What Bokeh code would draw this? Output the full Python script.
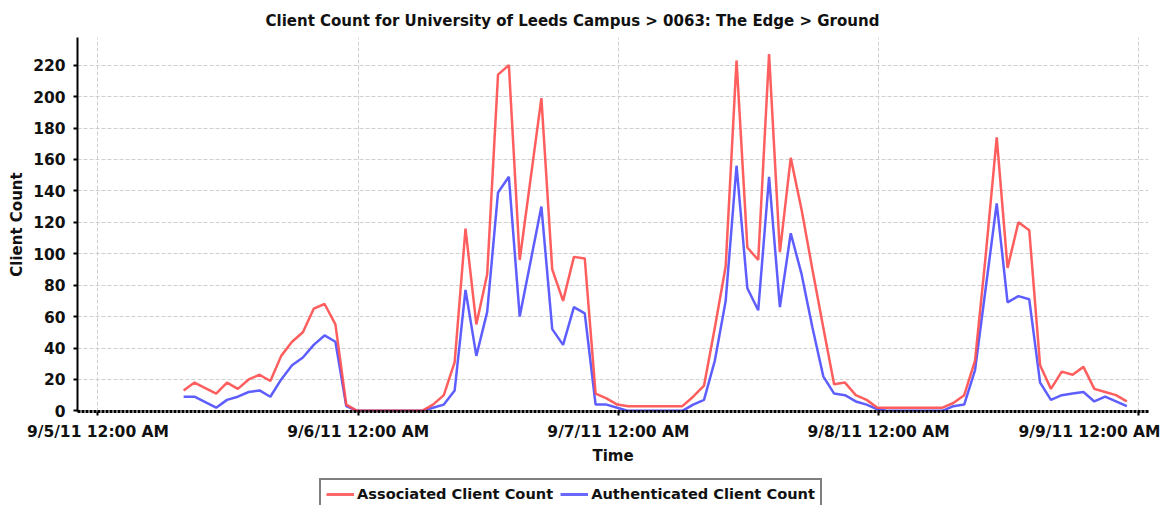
from datetime import datetime, timedelta
from bokeh.plotting import figure
from bokeh.layouts import column
from bokeh.models import Range1d, FixedTicker, Legend, LegendItem
from bokeh.embed import file_html
from bokeh.resources import INLINE

# ---- data ----
title_text = "Client Count for University of Leeds Campus > 0063: The Edge > Ground"
start_day = datetime(2011, 9, 5)
# sample index = hours after 9/5/11 12:00 AM (samples taken ~ :54 past each hour)
hour_index = [7, 8] + list(range(10, 39)) + list(range(40, 95))
associated = [13, 18, 11, 18, 14, 20, 23, 19, 35, 44, 50, 65, 68, 55, 4,
              0, 0, 0, 0, 0, 0, 0, 4, 10, 31, 116, 55, 87, 214, 220, 96,
              199, 90, 70, 98, 97, 11, 8, 4, 3, 3, 3, 3, 3, 3, 9, 16, 53, 92,
              223, 104, 96, 227, 101, 161, 128, 90, 53, 17, 18, 10, 7, 2,
              2, 2, 2, 2, 2, 2, 5, 10, 32, 100, 174, 91, 120, 115, 29, 14,
              25, 23, 28, 14, 12, 10, 6]
authenticated = [9, 9, 2, 7, 9, 12, 13, 9, 20, 29, 34, 42, 48, 44, 3,
                 0, 0, 0, 0, 0, 0, 0, 2, 4, 13, 77, 35, 63, 139, 149, 60,
                 130, 52, 42, 66, 62, 4, 4, 2, 0, 0, 0, 0, 0, 0, 4, 7, 32, 70,
                 156, 78, 64, 149, 66, 113, 87, 53, 22, 11, 10, 6, 4, 1,
                 0, 0, 0, 0, 0, 0, 3, 4, 26, 79, 132, 69, 73, 71, 18, 7,
                 10, 11, 12, 6, 9, 6, 3]
series_names = ["Associated Client Count", "Authenticated Client Count"]
tick_days = [0, 1, 2, 3, 4]
tick_labels = ["9/5/11 12:00 AM", "9/6/11 12:00 AM", "9/7/11 12:00 AM",
               "9/8/11 12:00 AM", "9/9/11 12:00 AM"]
y_ticks = list(range(0, 221, 20))

sample_offset_h = 0.9
times = [start_day + timedelta(hours=h + sample_offset_h) for h in hour_index]

def ms(dt):
    return (dt - datetime(1970, 1, 1)).total_seconds() * 1000.0

tick_ms = [ms(start_day + timedelta(days=d)) for d in tick_days]

FONT = "DejaVu Sans"
RED = "#ff4d4d"
BLUE = "#4d4dff"
TXT = "#111111"

p = figure(width=1160, height=477, x_axis_type="datetime",
           output_backend="svg", toolbar_location=None,
           min_border_left=77, min_border_right=12,
           min_border_top=37, min_border_bottom=66)
p.outline_line_color = None
p.background_fill_color = "white"

p.title.text = title_text
p.title.align = "left"
p.title.offset = 188
p.title.standoff = 16
p.title.text_font = FONT
p.title.text_font_size = "15px"
p.title.text_font_style = "bold"
p.title.text_color = TXT

p.x_range = Range1d(ms(start_day - timedelta(hours=1.89)),
                    ms(start_day + timedelta(hours=96.9)))
p.y_range = Range1d(-0.4, 237.6)

p.line(times, authenticated, line_color=BLUE, line_width=2.5, line_alpha=0.9)
p.line(times, associated, line_color=RED, line_width=2.5, line_alpha=0.9)

# axes
p.xaxis.ticker = FixedTicker(ticks=tick_ms)
p.xaxis.major_label_overrides = {t: lab for t, lab in zip(tick_ms, tick_labels)}
p.yaxis.ticker = FixedTicker(ticks=y_ticks)
p.xaxis.minor_tick_line_color = None
p.yaxis.minor_tick_line_color = None
for ax in (p.xaxis, p.yaxis):
    ax.axis_line_color = "black"
    ax.major_tick_line_color = "black"
    ax.major_tick_line_width = 2
    ax.major_tick_out = 4
    ax.major_tick_in = 0
    ax.major_label_text_font = FONT
    ax.major_label_text_font_size = "15.5px"
    ax.major_label_text_font_style = "bold"
    ax.major_label_text_color = TXT
    ax.axis_label_text_font = FONT
    ax.axis_label_text_font_size = "15px"
    ax.axis_label_text_font_style = "bold"
    ax.axis_label_text_color = TXT
p.yaxis.axis_line_width = 2
p.xaxis.axis_line_width = 3
p.xaxis.axis_line_dash = "3 1"
p.xaxis.major_label_standoff = 7
p.yaxis.major_label_standoff = 8
p.xaxis.axis_label = "Time"
p.yaxis.axis_label = "Client Count"
p.xaxis.axis_label_standoff = 3
p.yaxis.axis_label_standoff = 4

# grid
for g in (p.xgrid, p.ygrid):
    g.grid_line_color = "#cfcfcf"
    g.grid_line_dash = "4 2"
    g.grid_line_width = 1
p.xgrid.ticker = FixedTicker(ticks=tick_ms)
p.ygrid.ticker = FixedTicker(ticks=y_ticks)

# legend strip below the chart (series redrawn off-range, only to give swatches)
lg = figure(width=1160, height=28, output_backend="svg", toolbar_location=None,
            min_border_left=0, min_border_right=0, min_border_top=0,
            min_border_bottom=0, x_axis_location=None, y_axis_location=None,
            x_range=Range1d(0, 1), y_range=Range1d(-1000, -999))
lg.outline_line_color = None
lg.xgrid.visible = False
lg.ygrid.visible = False
r_red = lg.line(times, associated, line_color=RED, line_width=3, line_alpha=0.85)
r_blue = lg.line(times, authenticated, line_color=BLUE, line_width=3, line_alpha=0.85)
legend = Legend(items=[LegendItem(label=series_names[0], renderers=[r_red]),
                       LegendItem(label=series_names[1], renderers=[r_blue])],
                orientation="horizontal", location=(242, -4),
                label_text_font=FONT, label_text_font_size="14.6px",
                label_text_font_style="bold", label_text_color=TXT,
                glyph_width=28, glyph_height=16, label_standoff=3, spacing=7,
                padding=5, margin=0,
                border_line_color="black", border_line_width=2,
                background_fill_color="white")
lg.add_layout(legend, "center")

layout = column(p, lg)
open("out.html", "w").write(file_html(layout, INLINE))
